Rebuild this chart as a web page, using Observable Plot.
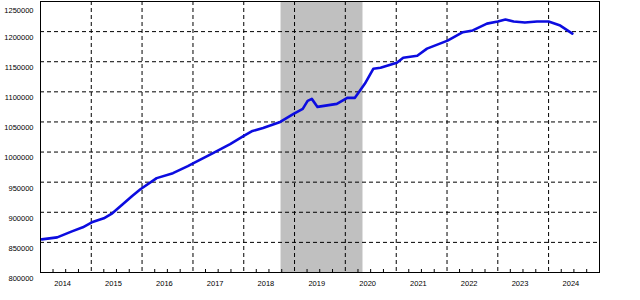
<!DOCTYPE html>
<html>
<head>
<meta charset="utf-8">
<script src="https://cdn.jsdelivr.net/npm/d3@7"></script>
<script src="https://cdn.jsdelivr.net/npm/@observablehq/plot@0.6"></script>
<style>
  html, body { margin: 0; padding: 0; background: #fff; }
</style>
</head>
<body>
<div id="chart"></div>
<script>
const dates = [
  "2014-01-10","2014-05-01","2014-08-15","2014-11-01","2015-01-05","2015-04-01",
  "2015-06-01","2015-08-15","2015-10-20","2015-12-20","2016-04-15","2016-08-10",
  "2016-11-25","2017-01-05","2017-05-25","2017-09-25","2018-01-01","2018-03-05",
  "2018-05-20","2018-09-20","2018-12-25","2019-03-01","2019-04-05","2019-05-05",
  "2019-06-15","2019-11-01","2020-01-15","2020-03-10","2020-05-20","2020-07-20",
  "2020-09-10","2021-01-05","2021-02-20","2021-06-01","2021-08-10","2022-01-05",
  "2022-04-25","2022-07-05","2022-10-15","2023-01-01","2023-02-25","2023-04-25",
  "2023-07-15","2023-10-10","2024-01-01","2024-03-25","2024-06-20"
];
const values = [
  855000, 858300, 868300, 875000, 883300, 890000,
  898300, 913300, 926700, 938300, 956700, 965000,
  976700, 981700, 998300, 1013300, 1026700, 1035000,
  1040000, 1050000, 1063300, 1071700, 1085000, 1088300,
  1075000, 1080000, 1090000, 1090000, 1113300, 1138300,
  1140000, 1148300, 1156700, 1160000, 1171700, 1185000,
  1199000, 1202000, 1213300, 1216700, 1220000, 1216700,
  1215000, 1216700, 1216700, 1210000, 1196700
];
const yTicks = [850000, 900000, 950000, 1000000, 1050000, 1100000, 1150000, 1200000];
const yTopTick = [1250000];
const yBottomTick = [800000];
const yearLabels = [2014, 2015, 2016, 2017, 2018, 2019, 2020, 2021, 2022, 2023, 2024];
const shade = [{start: "2018-09-26", end: "2020-05-07"}];
const xDomain = ["2014-01-01", "2025-01-01"];
const yDomain = [800000, 1250000];

const parse = d3.utcParse("%Y-%m-%d");
const series = dates.map((d, i) => ({date: parse(d), value: values[i]}));
const yearBounds = yearLabels.slice(1).map(y => new Date(Date.UTC(y, 0, 1)));
const midYears = yearLabels.map(y => new Date(Date.UTC(y, 6, 1)));
const quarters = [];
yearLabels.forEach(y => [3, 6, 9].forEach(m => quarters.push(new Date(Date.UTC(y, m, 1)))));
const shadeRows = shade.map(s => ({x1: parse(s.start), x2: parse(s.end)}));

const chart = Plot.plot({
  width: 640,
  height: 300,
  marginLeft: 40,
  marginRight: 41,
  marginTop: 1,
  marginBottom: 28,
  style: {fontFamily: "'Liberation Sans', Arial, sans-serif", fontSize: "7.5px", background: "#fff", color: "#000"},
  x: {type: "utc", domain: xDomain.map(parse), label: null},
  y: {domain: yDomain, label: null},
  marks: [
    Plot.rect(shadeRows, {x1: "x1", x2: "x2", fill: "#c0c0c0"}),
    Plot.gridY(yTicks, {stroke: "#000", strokeOpacity: 1, strokeDasharray: "4,3"}),
    Plot.gridX(yearBounds, {stroke: "#000", strokeOpacity: 1, strokeDasharray: "4,3"}),
    Plot.tickX(quarters, {x: d => d, stroke: "#000", insetTop: 268}),
    Plot.line(series, {x: "date", y: "value", stroke: "#0c0ce0", strokeWidth: 2.6, strokeLinejoin: "round"}),
    Plot.frame({stroke: "#000", strokeWidth: 1}),
    Plot.axisY(yTicks.concat(yBottomTick), {label: null, tickSize: 0, tickPadding: 7, dy: 6, tickFormat: d => String(d), fill: "#000"}),
    Plot.axisY(yTopTick, {label: null, tickSize: 0, tickPadding: 7, dy: 9, tickFormat: d => String(d), fill: "#000"}),
    Plot.axisX(midYears, {label: null, tickSize: 0, tickPadding: 8, dx: -3, tickFormat: d3.utcFormat("%Y"), fill: "#000"})
  ]
});
document.getElementById("chart").appendChild(chart);
</script>
</body>
</html>
